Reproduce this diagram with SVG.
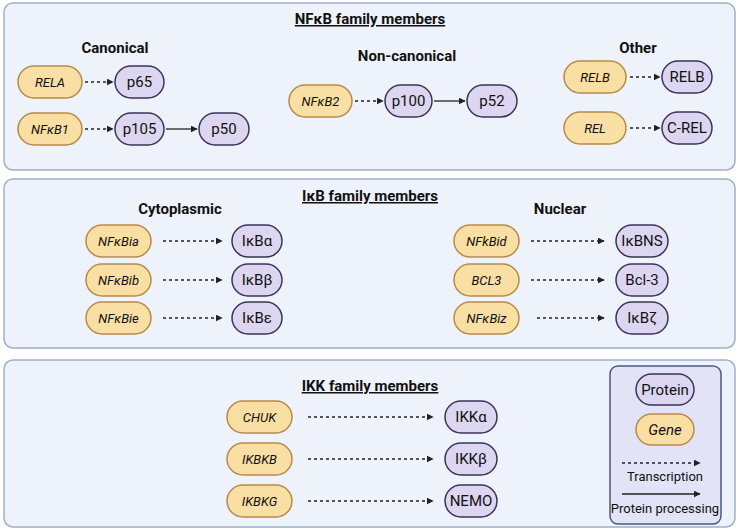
<svg xmlns="http://www.w3.org/2000/svg" width="740" height="532" viewBox="0 0 740 532">
<defs>
<marker id="ah" viewBox="0 0 10 10" refX="9" refY="5" markerWidth="7" markerHeight="7" orient="auto" markerUnits="userSpaceOnUse"><path d="M0,0L10,5L0,10z" fill="#222"/></marker>
<style>
text{font-family:Roboto,"Liberation Sans",sans-serif;fill:#111}
.panel{fill:#eef2fb;stroke:#9fb0cc;stroke-width:1.5}
.g rect{fill:#f9dfa4;stroke:#b78a4a;stroke-width:1.5}
.g text{font-style:italic;font-size:13px;text-anchor:middle}
.p rect{fill:#dcd6f0;stroke:#3a3556;stroke-width:1.5}
.p text{font-size:15px;text-anchor:middle}
.h{font-size:15px;font-weight:bold;text-anchor:middle}
.t{font-size:15px;font-weight:bold;text-anchor:middle;text-decoration:underline}
.d{stroke:#222;stroke-width:1.3;stroke-dasharray:3,3;fill:none;marker-end:url(#ah)}
.s{stroke:#222;stroke-width:1.3;fill:none;marker-end:url(#ah)}
</style>
</defs>
<rect class="panel" x="4" y="3" width="731" height="167" rx="9"/>
<rect class="panel" x="4" y="179" width="731" height="169" rx="9"/>
<rect class="panel" x="4" y="360" width="731" height="167" rx="9"/>
<rect x="610" y="366" width="111" height="158" rx="8" fill="#e2e3f6" stroke="#4a5a80" stroke-width="1.5"/>
<text class="t" x="370" y="24">NFκB family members</text>
<text class="h" x="115" y="53">Canonical</text>
<text class="h" x="407" y="61">Non-canonical</text>
<text class="h" x="638" y="53">Other</text>
<text class="t" x="370" y="201">IκB family members</text>
<text class="h" x="180" y="214">Cytoplasmic</text>
<text class="h" x="560" y="214">Nuclear</text>
<text class="t" x="370" y="391">IKK family members</text>
<g id="n-rela" class="g"><rect x="18" y="66" width="64" height="32" rx="16"/><text x="50" y="87">RELA</text></g>
<g id="n-p65" class="p"><rect x="115" y="66" width="49" height="32" rx="16"/><text x="139.5" y="87">p65</text></g>
<g id="n-nfkb1" class="g"><rect x="18" y="113" width="64" height="32" rx="16"/><text x="50" y="134">NFκB1</text></g>
<g id="n-p105" class="p"><rect x="115" y="113" width="49" height="32" rx="16"/><text x="139.5" y="134">p105</text></g>
<g id="n-p50" class="p"><rect x="199" y="113" width="50" height="32" rx="16"/><text x="224" y="134">p50</text></g>
<g id="n-nfkb2" class="g"><rect x="289" y="85" width="63" height="32" rx="16"/><text x="320.5" y="106">NFκB2</text></g>
<g id="n-p100" class="p"><rect x="385" y="85" width="47" height="32" rx="16"/><text x="408.5" y="106">p100</text></g>
<g id="n-p52" class="p"><rect x="467" y="85" width="50" height="32" rx="16"/><text x="492" y="106">p52</text></g>
<g id="n-relb" class="g"><rect x="564" y="61" width="62" height="32" rx="16"/><text x="595" y="82">RELB</text></g>
<g id="n-relbp" class="p"><rect x="662" y="61" width="50" height="32" rx="16"/><text x="687" y="82">RELB</text></g>
<g id="n-rel" class="g"><rect x="564" y="112" width="62" height="32" rx="16"/><text x="595" y="133">REL</text></g>
<g id="n-crel" class="p"><rect x="662" y="112" width="50" height="32" rx="16"/><text x="687" y="133">C-REL</text></g>
<g id="n-nfkbia" class="g"><rect x="86" y="225" width="65" height="32" rx="16"/><text x="118.5" y="246">NFκBia</text></g>
<g id="n-ikba" class="p"><rect x="232" y="225" width="50" height="32" rx="16"/><text x="257" y="246">IκBα</text></g>
<g id="n-nfkbib" class="g"><rect x="86" y="264" width="65" height="32" rx="16"/><text x="118.5" y="285">NFκBib</text></g>
<g id="n-ikbb" class="p"><rect x="232" y="264" width="50" height="32" rx="16"/><text x="257" y="285">IκBβ</text></g>
<g id="n-nfkbie" class="g"><rect x="86" y="302" width="65" height="32" rx="16"/><text x="118.5" y="323">NFκBie</text></g>
<g id="n-ikbe" class="p"><rect x="232" y="302" width="50" height="32" rx="16"/><text x="257" y="323">IκBε</text></g>
<g id="n-nfkbid" class="g"><rect x="454" y="225" width="65" height="32" rx="16"/><text x="486.5" y="246">NFkBid</text></g>
<g id="n-ikbns" class="p"><rect x="616" y="225" width="52" height="32" rx="16"/><text x="642" y="246">IκBNS</text></g>
<g id="n-bcl3" class="g"><rect x="454" y="264" width="65" height="32" rx="16"/><text x="486.5" y="285">BCL3</text></g>
<g id="n-bcl3p" class="p"><rect x="616" y="264" width="52" height="32" rx="16"/><text x="642" y="285">Bcl-3</text></g>
<g id="n-nfkbiz" class="g"><rect x="454" y="302" width="65" height="32" rx="16"/><text x="486.5" y="323">NFκBiz</text></g>
<g id="n-ikbz" class="p"><rect x="616" y="302" width="52" height="32" rx="16"/><text x="642" y="323">IκBζ</text></g>
<g id="n-chuk" class="g"><rect x="227" y="401" width="65" height="32" rx="16"/><text x="259.5" y="422">CHUK</text></g>
<g id="n-ikka" class="p"><rect x="445" y="401" width="52" height="32" rx="16"/><text x="471" y="422">IKKα</text></g>
<g id="n-ikbkb" class="g"><rect x="227" y="443" width="65" height="32" rx="16"/><text x="259.5" y="464">IKBKB</text></g>
<g id="n-ikkb" class="p"><rect x="445" y="443" width="52" height="32" rx="16"/><text x="471" y="464">IKKβ</text></g>
<g id="n-ikbkg" class="g"><rect x="227" y="485" width="65" height="32" rx="16"/><text x="259.5" y="506">IKBKG</text></g>
<g id="n-nemo" class="p"><rect x="445" y="485" width="52" height="32" rx="16"/><text x="471" y="506">NEMO</text></g>
<g id="legend">
<g class="p"><rect x="636" y="374" width="58" height="31" rx="15.5"/><text x="665" y="395">Protein</text></g>
<g class="g"><rect x="636" y="414" width="58" height="31" rx="15.5"/><text x="665" y="435" style="font-size:15px">Gene</text></g>
<path class="d" d="M622,463H700"/>
<text x="665" y="481" font-size="13" text-anchor="middle">Transcription</text>
<path class="s" d="M622,494H700"/>
<text x="665" y="513" font-size="13" text-anchor="middle">Protein processing</text>
</g>
<g id="connectors">
<path class="d" d="M85,82H113"/>
<path class="d" d="M85,129H113"/>
<path class="s" d="M166,129H197"/>
<path class="d" d="M355,101H383"/>
<path class="s" d="M434,101H465"/>
<path class="d" d="M630,77H660"/>
<path class="d" d="M630,128H660"/>
<path class="d" d="M163,241H222"/>
<path class="d" d="M163,280H222"/>
<path class="d" d="M163,318H222"/>
<path class="d" d="M531,241H604"/>
<path class="d" d="M531,280H604"/>
<path class="d" d="M537,318H604"/>
<path class="d" d="M308,417H433"/>
<path class="d" d="M308,459H433"/>
<path class="d" d="M308,501H433"/>
</g>
</svg>
